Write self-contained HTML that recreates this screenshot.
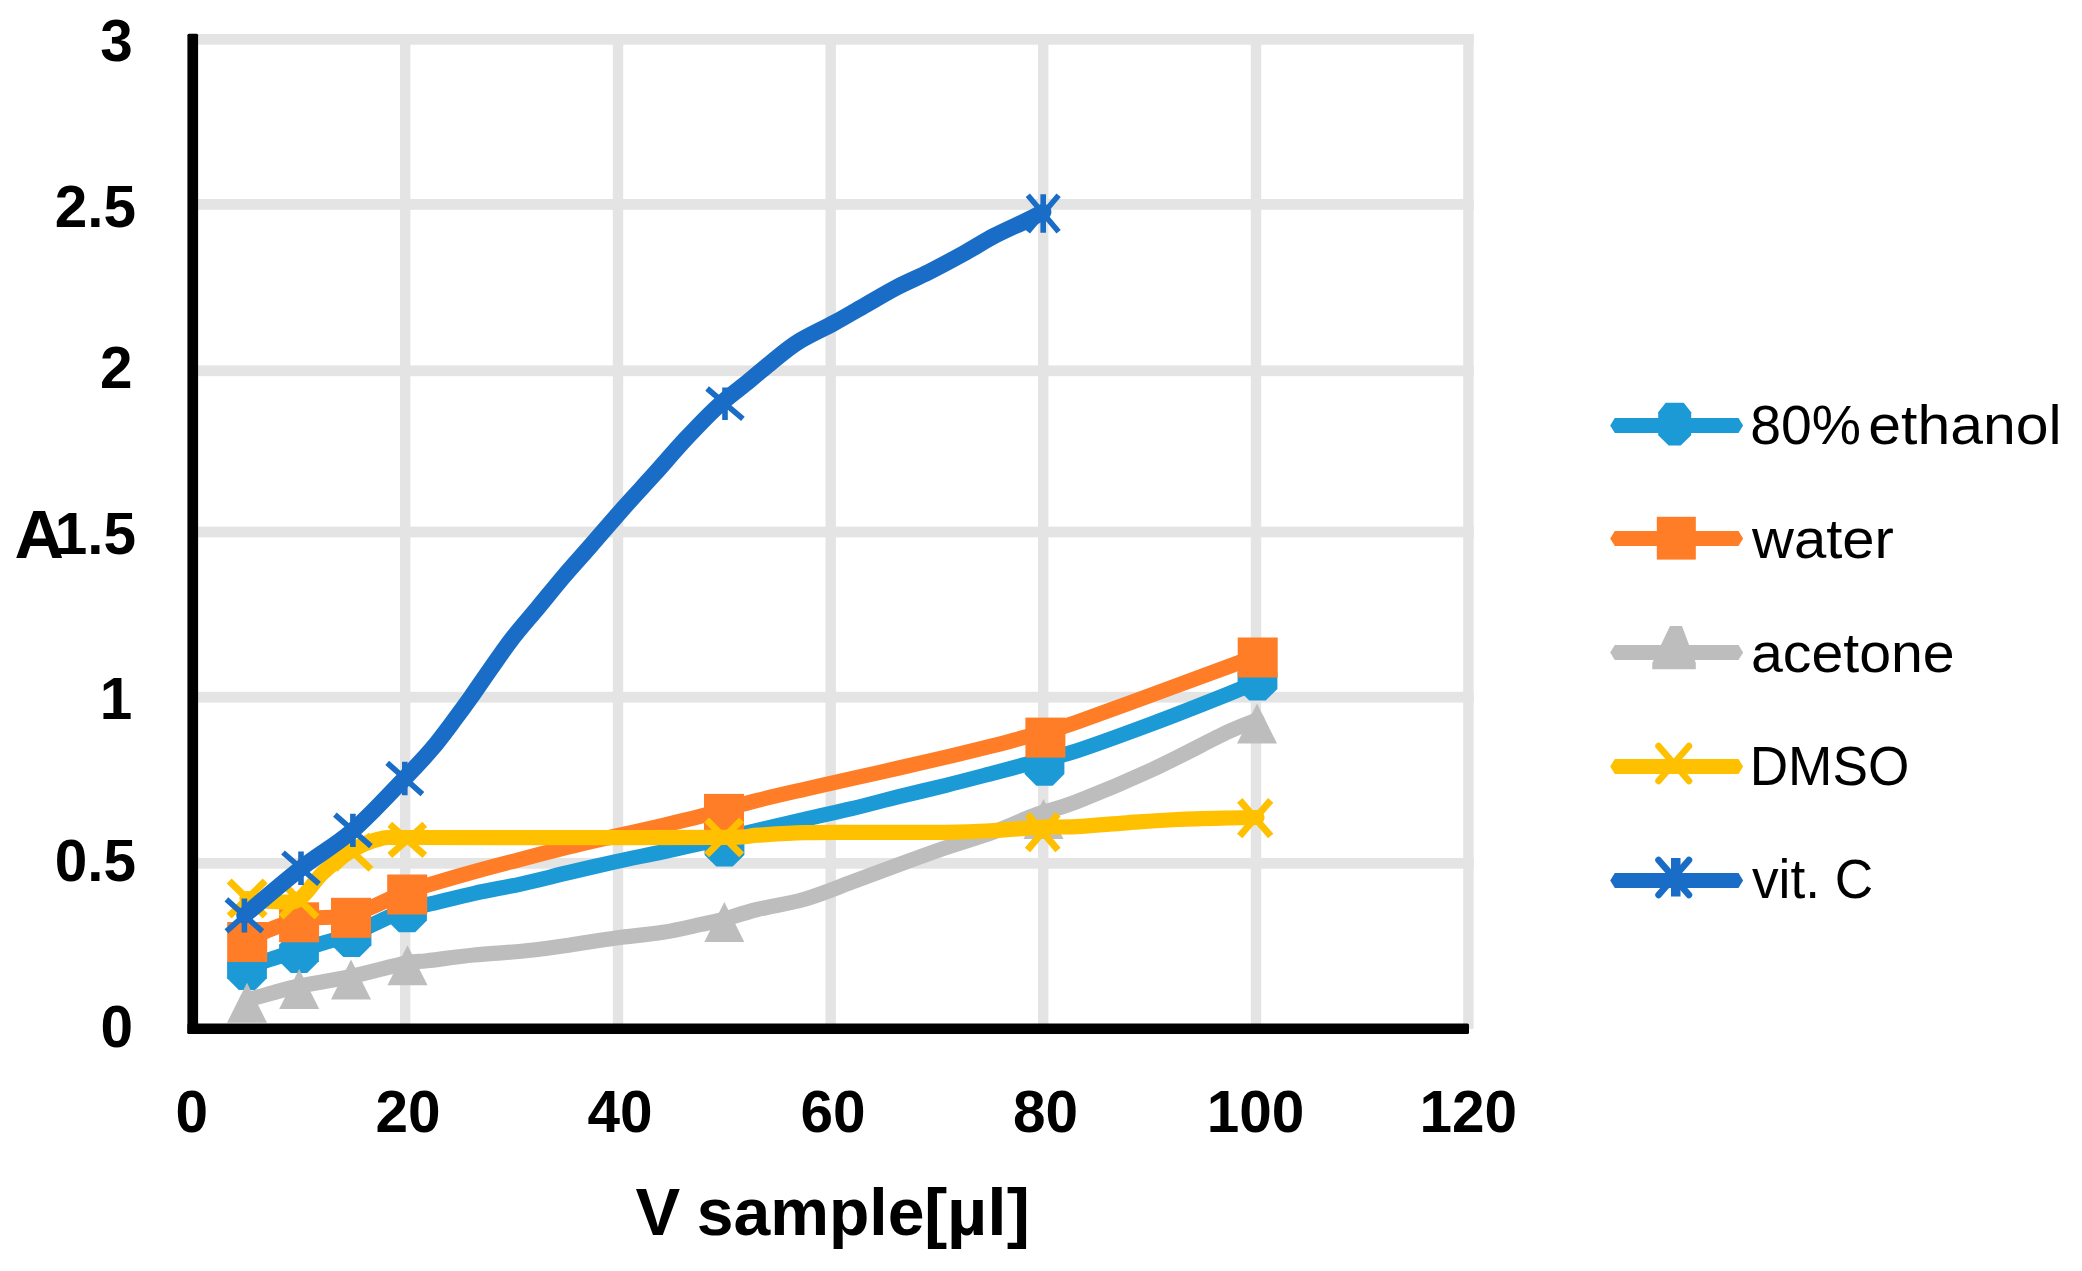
<!DOCTYPE html>
<html><head><meta charset="utf-8"><title>chart</title>
<style>html,body{margin:0;padding:0;background:#fff}svg{display:block}.t{font-family:"Liberation Sans",sans-serif;fill:#000}</style></head>
<body>
<svg width="2082" height="1271" viewBox="0 0 2082 1271">
<rect width="2082" height="1271" fill="#fff"/>
<rect x="192" y="33.9" width="1281.8" height="10.8" fill="#e4e4e4"/>
<rect x="192" y="199.0" width="1281.8" height="10.8" fill="#e4e4e4"/>
<rect x="192" y="365.4" width="1281.8" height="10.8" fill="#e4e4e4"/>
<rect x="192" y="526.6" width="1281.8" height="10.8" fill="#e4e4e4"/>
<rect x="192" y="691.8" width="1281.8" height="10.8" fill="#e4e4e4"/>
<rect x="192" y="857.9" width="1281.8" height="10.8" fill="#e4e4e4"/>
<rect x="400.0" y="34" width="10.4" height="995" fill="#e4e4e4"/>
<rect x="612.8" y="34" width="10.4" height="995" fill="#e4e4e4"/>
<rect x="825.5" y="34" width="10.4" height="995" fill="#e4e4e4"/>
<rect x="1038.0" y="34" width="10.4" height="995" fill="#e4e4e4"/>
<rect x="1250.8" y="34" width="10.4" height="995" fill="#e4e4e4"/>
<rect x="1463.2" y="34" width="10.4" height="995" fill="#e4e4e4"/>
<path d="M247.0 967.0 C255.7 964.2 281.6 955.5 299.0 950.0 C316.4 944.5 333.6 940.8 351.5 934.0 C369.4 927.2 393.9 913.9 406.5 909.0 C419.1 904.1 415.9 907.2 427.2 904.6 C438.5 902.0 458.7 896.8 474.4 893.3 C490.1 889.8 505.9 887.3 521.6 883.8 C537.3 880.3 553.1 876.2 568.8 872.5 C584.5 868.8 600.3 865.1 616.0 861.6 C631.7 858.1 645.1 855.6 663.2 851.7 C681.3 847.8 701.0 843.6 724.5 838.2 C748.0 832.8 783.2 824.2 804.4 819.3 C825.6 814.4 835.9 812.5 851.6 808.7 C867.3 804.9 883.1 800.6 898.8 796.7 C914.5 792.8 930.3 789.2 946.0 785.3 C961.7 781.4 980.0 776.5 993.2 773.1 C1006.4 769.7 1016.5 766.9 1025.0 764.6 C1033.5 762.3 1035.5 761.8 1044.0 759.5 C1052.5 757.2 1058.2 756.9 1076.2 751.0 C1094.2 745.1 1126.5 733.3 1151.7 723.9 C1176.9 714.5 1209.8 701.4 1227.3 694.4 C1244.8 687.4 1252.0 684.1 1257.0 682.0" fill="none" stroke="#1b9ad6" stroke-width="15.2" stroke-linecap="round" stroke-linejoin="round"/>
<polygon points="266.9,978.2 255.2,989.9 238.8,989.9 227.1,978.2 227.1,961.8 238.8,950.1 255.2,950.1 266.9,961.8" fill="#1b9ad6"/>
<polygon points="318.9,961.2 307.2,972.9 290.8,972.9 279.1,961.2 279.1,944.8 290.8,933.1 307.2,933.1 318.9,944.8" fill="#1b9ad6"/>
<polygon points="371.4,945.2 359.7,956.9 343.3,956.9 331.6,945.2 331.6,928.8 343.3,917.1 359.7,917.1 371.4,928.8" fill="#1b9ad6"/>
<polygon points="426.9,920.5 415.2,932.2 398.8,932.2 387.1,920.5 387.1,904.1 398.8,892.4 415.2,892.4 426.9,904.1" fill="#1b9ad6"/>
<polygon points="744.4,854.9 732.7,866.6 716.3,866.6 704.6,854.9 704.6,838.5 716.3,826.8 732.7,826.8 744.4,838.5" fill="#1b9ad6"/>
<polygon points="1064.4,774.0 1052.7,785.7 1036.3,785.7 1024.6,774.0 1024.6,757.6 1036.3,745.9 1052.7,745.9 1064.4,757.6" fill="#1b9ad6"/>
<polygon points="1277.4,688.9 1265.7,700.6 1249.3,700.6 1237.6,688.9 1237.6,672.5 1249.3,660.8 1265.7,660.8 1277.4,672.5" fill="#1b9ad6"/>
<path d="M247.0 939.0 C255.7 935.8 281.7 923.5 299.0 919.5 C316.3 915.5 333.1 919.7 351.0 915.0 C368.9 910.3 393.8 896.2 406.5 891.2 C419.2 886.2 415.9 888.5 427.2 885.2 C438.5 881.9 458.7 876.0 474.4 871.6 C490.1 867.2 505.9 863.2 521.6 859.1 C537.3 855.0 553.1 850.9 568.8 847.0 C584.5 843.1 600.3 839.6 616.0 836.0 C631.7 832.4 649.0 828.6 663.2 825.3 C677.4 822.0 690.8 818.8 701.0 816.2 C711.2 813.6 715.1 812.1 724.5 809.5 C733.9 806.9 743.9 803.8 757.2 800.4 C770.5 797.0 788.7 792.9 804.4 789.3 C820.1 785.7 835.9 782.2 851.6 778.7 C867.3 775.2 883.1 771.6 898.8 768.0 C914.5 764.4 930.3 760.9 946.0 757.2 C961.7 753.5 980.0 749.0 993.2 745.7 C1006.4 742.4 1016.5 739.4 1025.0 737.2 C1033.5 735.0 1035.5 735.0 1044.0 732.5 C1052.5 730.0 1058.2 728.6 1076.2 722.3 C1094.2 716.0 1126.5 704.1 1151.7 694.9 C1176.9 685.7 1209.8 673.5 1227.3 667.0 C1244.8 660.5 1252.0 657.8 1257.0 656.0" fill="none" stroke="#ff7d26" stroke-width="15.2" stroke-linecap="round" stroke-linejoin="round"/>
<rect x="227.2" y="922.0" width="40" height="40" fill="#ff7d26"/>
<rect x="279.1" y="902.3" width="40" height="40" fill="#ff7d26"/>
<rect x="331.0" y="897.8" width="40" height="40" fill="#ff7d26"/>
<rect x="387.2" y="874.5" width="40" height="40" fill="#ff7d26"/>
<rect x="704.0" y="793.9" width="40" height="40" fill="#ff7d26"/>
<rect x="1025.4" y="717.6" width="40" height="40" fill="#ff7d26"/>
<rect x="1237.7" y="637.5" width="40" height="40" fill="#ff7d26"/>
<path d="M247.0 1000.0 C251.3 998.8 264.0 995.1 272.7 992.8 C281.4 990.5 286.1 988.7 299.2 986.0 C312.2 983.3 333.1 980.3 351.0 976.5 C368.9 972.7 393.8 965.6 406.5 963.0 C419.2 960.4 415.8 962.0 427.0 960.7 C438.2 959.4 458.2 956.6 474.0 955.0 C489.8 953.4 505.8 952.8 521.6 951.2 C537.4 949.6 553.1 947.4 568.8 945.2 C584.5 943.0 600.3 940.1 616.0 938.0 C631.7 935.9 648.8 934.6 663.0 932.3 C677.2 930.0 690.8 926.6 701.0 924.4 C711.2 922.2 715.1 921.5 724.5 919.0 C733.9 916.5 743.9 912.8 757.2 909.5 C770.5 906.2 788.7 903.8 804.4 899.2 C820.1 894.7 835.9 888.0 851.6 882.2 C867.3 876.4 883.1 870.4 898.8 864.6 C914.5 858.8 930.3 853.0 946.0 847.6 C961.7 842.2 979.0 837.3 993.2 832.1 C1007.4 826.9 1022.5 819.9 1031.0 816.5 C1039.5 813.1 1036.5 814.4 1044.0 812.0 C1051.5 809.6 1058.2 808.9 1076.2 801.9 C1094.2 794.9 1126.5 781.5 1151.7 769.9 C1176.9 758.3 1209.8 740.5 1227.3 732.2 C1244.8 723.9 1252.0 722.0 1257.0 720.0" fill="none" stroke="#bdbdbd" stroke-width="15.2" stroke-linecap="round" stroke-linejoin="round"/>
<polygon points="247.0,982.7 267.0,1022.7 227.0,1022.7" fill="#bdbdbd"/>
<polygon points="299.2,969.0 319.2,1009.0 279.2,1009.0" fill="#bdbdbd"/>
<polygon points="351.0,959.5 371.0,999.5 331.0,999.5" fill="#bdbdbd"/>
<polygon points="407.5,945.3 427.5,985.3 387.5,985.3" fill="#bdbdbd"/>
<polygon points="724.3,902.0 744.3,942.0 704.3,942.0" fill="#bdbdbd"/>
<polygon points="1043.5,798.9 1063.5,838.9 1023.5,838.9" fill="#bdbdbd"/>
<polygon points="1257.0,703.6 1277.0,743.6 1237.0,743.6" fill="#bdbdbd"/>
<path d="M247.0 898.6 C251.7 899.1 266.3 901.5 275.0 901.6 C283.7 901.7 291.1 904.2 299.0 899.4 C306.9 894.6 314.0 881.1 322.7 873.0 C331.4 864.9 341.6 856.7 351.0 851.0 C360.4 845.3 369.9 841.2 379.4 839.0 C388.8 836.8 377.6 837.7 407.7 837.5 C437.8 837.3 507.2 837.6 560.0 837.6 C612.8 837.6 691.6 837.8 724.5 837.4 C757.4 837.0 743.9 836.0 757.2 835.2 C770.5 834.4 788.7 833.2 804.4 832.7 C820.1 832.2 828.0 832.4 851.6 832.3 C875.2 832.2 922.4 832.6 946.0 832.3 C969.6 832.0 979.0 831.4 993.2 830.6 C1007.4 829.9 1022.5 828.4 1031.0 827.8 C1039.5 827.2 1036.5 827.2 1044.0 827.0 C1051.5 826.8 1062.4 827.3 1076.2 826.6 C1090.0 825.9 1109.8 824.0 1126.6 822.8 C1143.4 821.6 1160.1 820.3 1176.9 819.5 C1193.7 818.7 1214.0 818.3 1227.3 818.0 C1240.6 817.7 1252.0 817.6 1257.0 817.5" fill="none" stroke="#ffc000" stroke-width="15.2" stroke-linecap="round" stroke-linejoin="round"/>
<path d="M229.2 881.1L265.2 916.1M265.2 881.1L229.2 916.1" stroke="#ffc000" stroke-width="7" fill="none"/>
<path d="M281.0 881.9L317.0 916.9M317.0 881.9L281.0 916.9" stroke="#ffc000" stroke-width="7" fill="none"/>
<path d="M334.9 835.2L370.9 869.2M370.9 835.2L334.9 869.2" stroke="#ffc000" stroke-width="7" fill="none"/>
<path d="M389.8 824.4L424.8 855.4M424.8 824.4L389.8 855.4" stroke="#ffc000" stroke-width="7" fill="none"/>
<path d="M706.6 819.9L741.6 854.9M741.6 819.9L706.6 854.9" stroke="#ffc000" stroke-width="7" fill="none"/>
<path d="M1027.5 814.3L1057.9 849.9M1057.9 814.3L1027.5 849.9" stroke="#ffc000" stroke-width="7" fill="none"/>
<path d="M1239.7 800.4L1270.7 836.0M1270.7 800.4L1239.7 836.0" stroke="#ffc000" stroke-width="7" fill="none"/>
<path d="M244.4 915.4 C253.8 907.5 282.9 882.4 301.0 868.2 C319.1 854.0 335.6 845.4 352.9 830.4 C370.2 815.4 391.6 791.8 404.8 778.2 C418.0 764.6 423.4 758.9 432.0 748.8 C440.6 738.7 449.8 725.9 456.2 717.4 C462.6 708.9 465.1 705.4 470.7 697.5 C476.3 689.6 482.7 680.0 489.6 670.2 C496.5 660.4 504.0 649.2 512.1 638.7 C520.2 628.2 529.6 617.7 538.3 607.2 C547.0 596.7 555.6 585.9 564.3 575.7 C573.0 565.5 580.7 557.2 590.5 546.0 C600.3 534.8 612.2 520.7 622.9 508.7 C633.5 496.7 643.9 485.8 654.4 474.1 C664.9 462.4 675.4 449.9 685.9 438.7 C696.4 427.5 706.9 416.3 717.4 406.7 C727.9 397.1 739.8 388.6 748.8 381.2 C757.8 373.8 763.3 368.7 771.5 362.2 C779.7 355.7 787.5 348.6 798.0 342.0 C808.5 335.4 823.1 329.0 834.4 322.8 C845.7 316.6 855.4 310.8 865.9 304.8 C876.4 298.8 886.9 292.5 897.4 287.0 C907.9 281.5 918.0 277.5 928.9 272.0 C939.8 266.5 952.1 259.9 963.0 253.9 C973.9 247.9 983.9 241.3 994.4 235.8 C1004.9 230.3 1017.8 224.8 1025.9 220.8 C1034.0 216.8 1040.3 213.5 1043.2 212.0" fill="none" stroke="#196dc6" stroke-width="16.4" stroke-linecap="round" stroke-linejoin="round"/>
<path d="M226.4 899.4L262.4 931.4M262.4 899.4L226.4 931.4M244.4 898.4L244.4 932.4" stroke="#196dc6" stroke-width="5.6" fill="none"/>
<path d="M283.0 852.5L319.0 883.9M319.0 852.5L283.0 883.9M301.0 851.5L301.0 884.9" stroke="#196dc6" stroke-width="5.6" fill="none"/>
<path d="M334.9 814.7L370.9 846.1M370.9 814.7L334.9 846.1M352.9 813.7L352.9 847.1" stroke="#196dc6" stroke-width="5.6" fill="none"/>
<path d="M387.2 762.8L422.4 794.2M422.4 762.8L387.2 794.2M404.8 761.8L404.8 795.2" stroke="#196dc6" stroke-width="5.6" fill="none"/>
<path d="M707.1 388.5L742.9 418.9M742.9 388.5L707.1 418.9M725.0 387.5L725.0 419.9" stroke="#196dc6" stroke-width="5.6" fill="none"/>
<path d="M1027.8 195.3L1058.6 231.7M1058.6 195.3L1027.8 231.7M1043.2 194.3L1043.2 232.7" stroke="#196dc6" stroke-width="5.6" fill="none"/>
<rect x="187.4" y="33.8" width="10.7" height="1000" rx="1.5" fill="#000"/>
<rect x="187.4" y="1023.4" width="1281.6" height="10.5" rx="1.5" fill="#000"/>
<text x="132.8" y="61.0" class="t" font-weight="bold" font-size="58.5" text-anchor="end">3</text>
<text x="136.0" y="227.0" class="t" font-weight="bold" font-size="58.5" text-anchor="end">2.5</text>
<text x="132.6" y="388.0" class="t" font-weight="bold" font-size="58.5" text-anchor="end">2</text>
<text x="136.0" y="553.8" class="t" font-weight="bold" font-size="58.5" text-anchor="end">1.5</text>
<text x="132.2" y="719.0" class="t" font-weight="bold" font-size="58.5" text-anchor="end">1</text>
<text x="136.0" y="881.0" class="t" font-weight="bold" font-size="58.5" text-anchor="end">0.5</text>
<text x="133.1" y="1047.0" class="t" font-weight="bold" font-size="58.5" text-anchor="end">0</text>
<text x="14.6" y="557.8" class="t" font-weight="bold" font-size="68.5">A</text>
<text x="191.8" y="1132.2" class="t" font-weight="bold" font-size="58.5" text-anchor="middle">0</text>
<text x="408.0" y="1132.2" class="t" font-weight="bold" font-size="58.5" text-anchor="middle">20</text>
<text x="620.0" y="1132.2" class="t" font-weight="bold" font-size="58.5" text-anchor="middle">40</text>
<text x="833.0" y="1132.2" class="t" font-weight="bold" font-size="58.5" text-anchor="middle">60</text>
<text x="1045.6" y="1132.2" class="t" font-weight="bold" font-size="58.5" text-anchor="middle">80</text>
<text x="1255.5" y="1132.2" class="t" font-weight="bold" font-size="58.5" text-anchor="middle">100</text>
<text x="1468.2" y="1132.2" class="t" font-weight="bold" font-size="58.5" text-anchor="middle">120</text>
<text y="1235" class="t" font-weight="bold" font-size="67"><tspan x="635.4">V </tspan><tspan x="696.7" textLength="227.7" lengthAdjust="spacingAndGlyphs">sample</tspan><tspan x="923.9" textLength="106" lengthAdjust="spacingAndGlyphs">[µl]</tspan></text>
<polygon points="1610.2,425.5 1614.8,418.0 1738.5,418.0 1743.1,425.5 1738.5,433.0 1614.8,433.0" fill="#1b9ad6"/>
<polygon points="1665.7,402.8 1683.7,402.8 1691.2,412.2 1691.2,435.2 1680.7,445.6 1668.7,445.6 1658.2,435.2 1658.2,412.2" fill="#1b9ad6"/>
<text y="444.4" class="t" font-size="56"><tspan x="1750.3" textLength="110.8" lengthAdjust="spacingAndGlyphs">80%</tspan> <tspan x="1868.3" textLength="193.3" lengthAdjust="spacingAndGlyphs">ethanol</tspan></text>
<polygon points="1610.2,538.5 1614.8,531.0 1738.5,531.0 1743.1,538.5 1738.5,546.0 1614.8,546.0" fill="#ff7d26"/>
<rect x="1656.8" y="516.8" width="39" height="42.8" fill="#ff7d26"/>
<text x="1752.0" y="557.7" class="t" font-size="56" textLength="141.9" lengthAdjust="spacingAndGlyphs">water</text>
<polygon points="1610.2,652.4 1614.8,644.9 1738.5,644.9 1743.1,652.4 1738.5,659.9 1614.8,659.9" fill="#bdbdbd"/>
<polygon points="1670,626 1682,626 1695.8,663 1695.8,669.2 1652.3,669.2 1652.3,663" fill="#bdbdbd"/>
<text x="1750.9" y="671.8" class="t" font-size="56" textLength="203.8" lengthAdjust="spacingAndGlyphs">acetone</text>
<polygon points="1610.2,766.5 1614.8,759.0 1738.5,759.0 1743.1,766.5 1738.5,774.0 1614.8,774.0" fill="#ffc000"/>
<path d="M1658.5 746L1689 781M1689 746L1658.5 781" stroke="#ffc000" stroke-width="6.5" stroke-linecap="round" fill="none"/>
<text x="1749.7" y="784.6" class="t" font-size="56" textLength="159.6" lengthAdjust="spacingAndGlyphs">DMSO</text>
<polygon points="1610.2,880.4 1614.8,872.9 1738.5,872.9 1743.1,880.4 1738.5,887.9 1614.8,887.9" fill="#196dc6"/>
<path d="M1658.5 860L1689 895M1689 860L1658.5 895" stroke="#196dc6" stroke-width="6.5" stroke-linecap="round" fill="none"/>
<rect x="1671" y="858" width="9.5" height="38.5" fill="#196dc6"/>
<text x="1752.0" y="898.2" class="t" font-size="56" textLength="121.2" lengthAdjust="spacingAndGlyphs">vit. C</text>
</svg>
</body></html>
